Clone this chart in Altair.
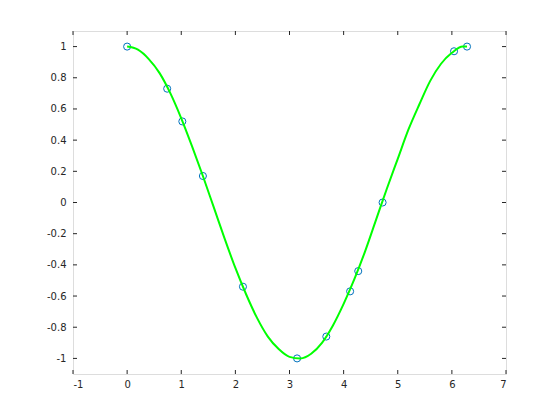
import altair as alt
import pandas as pd

# marker samples
xs = [0.0, 0.74, 1.02, 1.40, 2.14, 3.14, 3.68, 4.12, 4.27, 4.72, 6.04, 6.28]
ys = [1.0, 0.73, 0.52, 0.17, -0.54, -1.0, -0.86, -0.57, -0.44, 0.0, 0.97, 1.0]

# green curve
cx = [0.0, 0.2, 0.4, 0.6, 0.8, 1.0, 1.2, 1.4, 1.6, 1.8, 2.0, 2.2, 2.4, 2.6, 2.8, 3.0,
      3.2, 3.4, 3.6, 3.8, 4.0, 4.2, 4.4, 4.6, 4.8, 5.0, 5.2, 5.4, 5.6, 5.8, 6.0, 6.2, 6.28]
cy = [1.00, 0.98, 0.92, 0.83, 0.70, 0.54, 0.36, 0.17, -0.03, -0.23, -0.42, -0.59, -0.74,
      -0.86, -0.94, -0.99, -1.00, -0.97, -0.90, -0.79, -0.65, -0.49, -0.31, -0.11, 0.09,
      0.28, 0.47, 0.63, 0.78, 0.89, 0.96, 1.00, 1.00]

x_ticks = [-1, 0, 1, 2, 3, 4, 5, 6, 7]
y_ticks = [-1, -0.8, -0.6, -0.4, -0.2, 0, 0.2, 0.4, 0.6, 0.8, 1]

W, H = 433, 343
ink = "#262626"

pts = pd.DataFrame({"x": xs, "y": ys})
crv = pd.DataFrame({"x": cx, "y": cy})
xt = pd.DataFrame({"v": x_ticks})
yt = pd.DataFrame({"v": y_ticks})

xscale = alt.Scale(domain=[-1, 7], nice=False, zero=False)
yscale = alt.Scale(domain=[-1.1, 1.1], nice=False, zero=False)

xaxis = alt.Axis(values=x_ticks, tickSize=0, domain=False, grid=False, title=None,
                 labelExpr="datum.value + ''", labelPadding=5, labelFontSize=10,
                 labelFont="DejaVu Sans", labelColor=ink, labelOverlap=False)
yaxis = alt.Axis(values=y_ticks, tickSize=0, domain=False, grid=False, title=None,
                 labelExpr="datum.value + ''", labelPadding=7, labelFontSize=10,
                 labelFont="DejaVu Sans", labelColor=ink, labelOverlap=False)

markers = alt.Chart(pts).mark_point(shape="circle", filled=False, color="#0072BD",
                                    size=50, strokeWidth=1, opacity=1).encode(
    x=alt.X("x:Q", scale=xscale, axis=xaxis),
    y=alt.Y("y:Q", scale=yscale, axis=yaxis),
)

line = alt.Chart(crv).mark_line(color="#00ff00", strokeWidth=2, interpolate="monotone").encode(
    x=alt.X("x:Q", scale=xscale, axis=xaxis),
    y=alt.Y("y:Q", scale=yscale, axis=yaxis),
)

bt = alt.Chart(xt).mark_rule(color=ink, strokeWidth=1).encode(
    x=alt.X("v:Q", scale=xscale, axis=xaxis), y=alt.value(H), y2=alt.value(H - 4))
tt = alt.Chart(xt).mark_rule(color=ink, strokeWidth=1).encode(
    x=alt.X("v:Q", scale=xscale, axis=xaxis), y=alt.value(0), y2=alt.value(4))
lt = alt.Chart(yt).mark_rule(color=ink, strokeWidth=1).encode(
    y=alt.Y("v:Q", scale=yscale, axis=yaxis), x=alt.value(0), x2=alt.value(4))
rt = alt.Chart(yt).mark_rule(color=ink, strokeWidth=1).encode(
    y=alt.Y("v:Q", scale=yscale, axis=yaxis), x=alt.value(W), x2=alt.value(W - 4))

chart = alt.layer(markers, line, bt, tt, lt, rt).properties(
    width=W, height=H,
    autosize=alt.AutoSizeParams(type="none"),
    padding={"left": 65, "top": 23, "right": 46, "bottom": 38},
).configure_view(stroke=ink, strokeWidth=1).configure_axis(
    labelOverlap=False
).configure(background="white")

chart.save("out.html", embed_options={"renderer": "svg", "actions": False})
